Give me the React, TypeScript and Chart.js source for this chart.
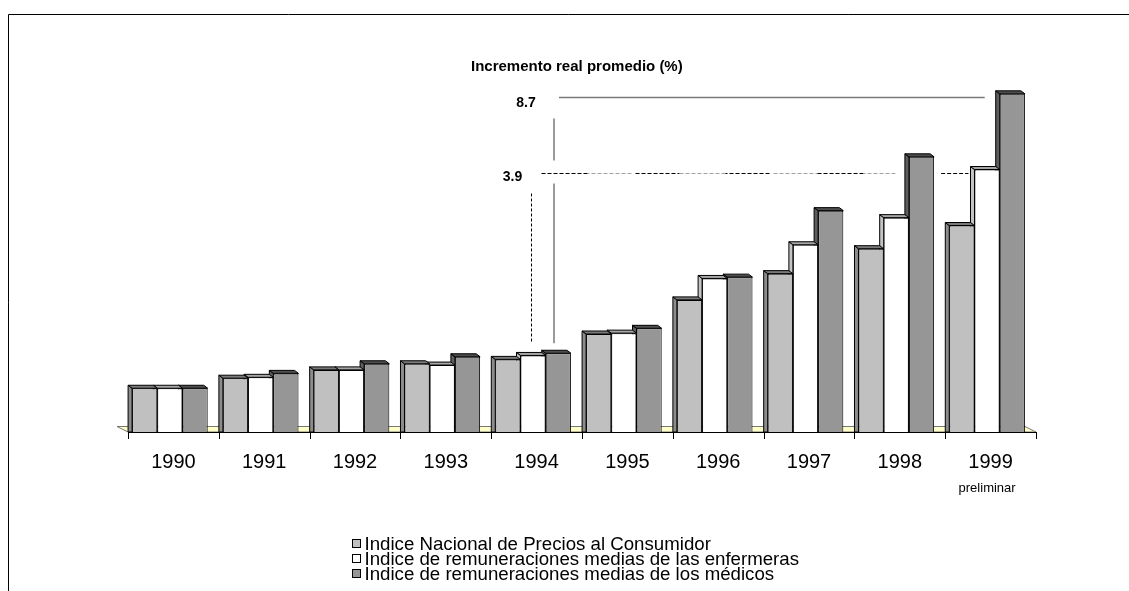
import { useEffect, useRef } from "react";
import { Chart, registerables } from "chart.js";

Chart.register(...registerables);

const years = ["1990", "1991", "1992", "1993", "1994", "1995", "1996", "1997", "1998", "1999"];
const indicePrecios = [100, 123, 142, 156, 166, 224, 302, 362, 419, 472];
const indiceEnfermeras = [100, 125, 142, 153, 175, 226, 351, 428, 490, 600];
const indiceMedicos = [100, 134, 156, 172, 180, 237, 354, 506, 629, 773];
const seriesLabels = [
  "Indice Nacional de Precios al Consumidor",
  "Indice de remuneraciones medias de las enfermeras",
  "Indice de remuneraciones medias de los médicos",
];
const annotationTitle = "Incremento real promedio (%)";
const incrementoMedicos = "8.7";
const incrementoEnfermeras = "3.9";
const lastYearNote = "preliminar";

const FRONT = ["#C0C0C0", "#FFFFFF", "#969696"];
const SIDE = ["#8C8C8C", "#C4C4C4", "#5E5E5E"];
const TOPC = ["#7A7A7A", "#A6A6A6", "#4E4E4E"];
const DX = 4;
const DY = 3;
const SHIFT = -3.5;
const FONT = "Arial, 'Liberation Sans', sans-serif";

function barBox(el: any) {
  return {
    l: el.x - el.width / 2 + SHIFT,
    r: el.x + el.width / 2 + SHIFT,
    x: el.x + SHIFT,
    y: el.y,
    base: el.base,
  };
}

const framePlugin = {
  id: "frame",
  beforeDraw(chart: any) {
    const ctx = chart.ctx;
    ctx.save();
    ctx.fillStyle = "#FFFFFF";
    ctx.fillRect(0, 0, chart.width, chart.height);
    ctx.strokeStyle = "#000000";
    ctx.lineWidth = 1;
    ctx.beginPath();
    ctx.moveTo(8.5, chart.height);
    ctx.lineTo(8.5, 14.5);
    ctx.lineTo(chart.width, 14.5);
    ctx.stroke();
    ctx.restore();
  },
};

const bar3dPlugin = {
  id: "bar3d",
  beforeDatasetsDraw(chart: any) {
    const ctx = chart.ctx;
    const { left, right, bottom } = chart.chartArea;
    const xs = chart.scales.x;
    ctx.save();
    // floor
    ctx.beginPath();
    ctx.moveTo(left, bottom);
    ctx.lineTo(right, bottom);
    ctx.lineTo(right - 11, bottom - 5.5);
    ctx.lineTo(left - 11, bottom - 5.5);
    ctx.closePath();
    ctx.fillStyle = "#FFFFC8";
    ctx.fill();
    ctx.strokeStyle = "#777777";
    ctx.lineWidth = 1;
    ctx.stroke();
    // axis line + tick marks at category boundaries
    ctx.strokeStyle = "#000000";
    ctx.beginPath();
    ctx.moveTo(left, bottom + 0.5);
    ctx.lineTo(right, bottom + 0.5);
    const n = chart.data.labels.length;
    for (let k = 0; k <= n; k++) {
      let bx: number;
      if (k === 0) bx = left;
      else if (k === n) bx = right;
      else bx = (xs.getPixelForValue(k - 1) + xs.getPixelForValue(k)) / 2;
      bx = Math.round(bx) + 0.5;
      ctx.moveTo(bx, bottom);
      ctx.lineTo(bx, bottom + 7);
    }
    ctx.stroke();
    // category labels
    ctx.fillStyle = "#000000";
    ctx.font = "20px " + FONT;
    ctx.textAlign = "center";
    ctx.textBaseline = "alphabetic";
    chart.data.labels.forEach((lab: string, i: number) => {
      ctx.fillText(lab, xs.getPixelForValue(i), bottom + 36);
    });
    ctx.restore();
    ctx.save();
    ctx.translate(SHIFT, 0);
  },
  beforeDatasetDraw(chart: any, args: any) {
    const ctx = chart.ctx;
    const i = args.index;
    ctx.save();
    ctx.lineWidth = 1;
    ctx.strokeStyle = "#000000";
    ctx.lineJoin = "miter";
    args.meta.data.forEach((el: any) => {
      const l = el.x - el.width / 2;
      const r = el.x + el.width / 2;
      const y = el.y;
      const base = el.base;
      ctx.beginPath();
      ctx.moveTo(l, base);
      ctx.lineTo(l, y);
      ctx.lineTo(l - DX, y - DY);
      ctx.lineTo(l - DX, base);
      ctx.closePath();
      ctx.fillStyle = SIDE[i];
      ctx.fill();
      ctx.stroke();
      ctx.beginPath();
      ctx.moveTo(l, y);
      ctx.lineTo(r, y);
      ctx.lineTo(r - DX, y - DY);
      ctx.lineTo(l - DX, y - DY);
      ctx.closePath();
      ctx.fillStyle = TOPC[i];
      ctx.fill();
      ctx.stroke();
    });
    ctx.restore();
  },
  afterDatasetsDraw(chart: any) {
    chart.ctx.restore();
  },
};

function dashedRun(ctx: any, x0: number, x1: number, y: number) {
  const colors = ["#000000", "#A0A0A0"];
  let x = x0;
  let k = 0;
  ctx.setLineDash([4, 2]);
  while (x < x1) {
    const xe = Math.min(x + 46, x1);
    ctx.strokeStyle = colors[k % 2];
    ctx.lineDashOffset = -(x - x0);
    ctx.beginPath();
    ctx.moveTo(x, y);
    ctx.lineTo(xe, y);
    ctx.stroke();
    x = xe;
    k++;
  }
  ctx.setLineDash([]);
}

const annotationPlugin = {
  id: "annotations",
  afterDraw(chart: any) {
    const ctx = chart.ctx;
    const mE = chart.getDatasetMeta(1);
    const mM = chart.getDatasetMeta(2);
    const d94 = barBox(mM.data[4]);
    const w94 = barBox(mE.data[4]);
    const d98 = barBox(mM.data[8]);
    const w99 = barBox(mE.data[9]);
    const d99 = barBox(mM.data[9]);
    const solidY = Math.round(d99.y + 3) + 0.5;
    const dashY = Math.round(w99.y + 3) + 0.5;
    const vx = Math.round(d94.l + 8);
    const dvx = Math.round(w94.l + 11) + 0.5;

    ctx.save();
    // solid lines (medicos)
    ctx.strokeStyle = "#7A7A7A";
    ctx.lineWidth = 1.5;
    ctx.beginPath();
    ctx.moveTo(vx + 5, solidY);
    ctx.lineTo(d99.l - DX - 11, solidY);
    ctx.moveTo(vx, solidY + 21);
    ctx.lineTo(vx, dashY - 13);
    ctx.moveTo(vx, dashY + 10);
    ctx.lineTo(vx, d94.y - 10);
    ctx.stroke();

    // dashed lines (enfermeras)
    ctx.lineWidth = 1;
    dashedRun(ctx, dvx + 10, d98.l - DX - 9.5, dashY);
    dashedRun(ctx, d98.r + 7, w99.l - DX - 2, dashY);
    ctx.strokeStyle = "#000000";
    ctx.setLineDash([3, 2]);
    ctx.beginPath();
    ctx.moveTo(dvx, dashY + 20);
    ctx.lineTo(dvx, w94.y - 12);
    ctx.stroke();
    ctx.setLineDash([]);

    // texts
    ctx.fillStyle = "#000000";
    ctx.textBaseline = "alphabetic";
    ctx.font = "bold 15px " + FONT;
    ctx.textAlign = "left";
    ctx.fillText(annotationTitle, 471, 71);
    ctx.font = "bold 14px " + FONT;
    ctx.textAlign = "center";
    ctx.fillText(incrementoMedicos, vx - 28, solidY + 9.5);
    ctx.fillText(incrementoEnfermeras, vx - 41.5, dashY + 7);

    // note under last category
    ctx.font = "13px " + FONT;
    ctx.fillText(lastYearNote, w99.x, 492);

    // legend
    ctx.textAlign = "left";
    ctx.font = "18.67px " + FONT;
    ctx.textBaseline = "alphabetic";
    const ly = [543, 558.3, 573.3];
    chart.data.datasets.forEach((ds: any, i: number) => {
      const sy = Math.round(ly[i] - 4.5);
      ctx.fillStyle = FRONT[i];
      ctx.fillRect(352, sy, 9, 9);
      ctx.strokeStyle = "#000000";
      ctx.lineWidth = 1;
      ctx.strokeRect(352.5, sy + 0.5, 8, 8);
      ctx.fillStyle = "#000000";
      ctx.fillText(ds.label, 364.5, ly[i] + 6.5);
    });
    ctx.restore();
  },
};

export default function App() {
  const ref = useRef<HTMLCanvasElement | null>(null);
  useEffect(() => {
    if (!ref.current) return;
    const datasetsValues = [indicePrecios, indiceEnfermeras, indiceMedicos];
    const chart = new Chart(ref.current, {
      type: "bar",
      data: {
        labels: years,
        datasets: datasetsValues.map((vals, i) => ({
          label: seriesLabels[i],
          data: vals,
          backgroundColor: FRONT[i],
          borderColor: "#000000",
          borderWidth: 1,
          barPercentage: 1,
          categoryPercentage: 0.833,
        })),
      },
      options: {
        animation: false,
        responsive: false,
        devicePixelRatio: 1,
        events: [],
        layout: { padding: { left: 128, right: 93, top: 82, bottom: 159 } },
        plugins: {
          legend: { display: false },
          tooltip: { enabled: false },
          title: { display: false },
        },
        scales: {
          x: {
            display: false,
            offset: true,
          },
          y: {
            display: false,
            min: 0,
            max: 800,
          },
        },
      },
      plugins: [framePlugin, bar3dPlugin, annotationPlugin],
    });
    return () => chart.destroy();
  }, []);
  return (
    <div style={{ position: "fixed", left: 0, top: 0, width: 1129, height: 591, overflow: "hidden", background: "#fff" }}>
      <canvas ref={ref} width={1129} height={591} style={{ display: "block", width: 1129, height: 591 }} />
    </div>
  );
}
